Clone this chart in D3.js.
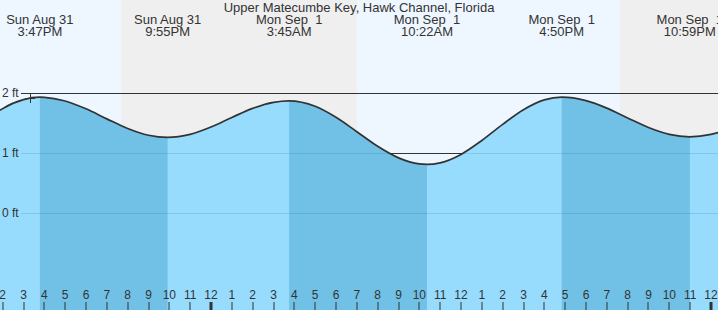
<!DOCTYPE html>
<html><head><meta charset="utf-8">
<script src="https://cdn.jsdelivr.net/npm/d3@7"></script>
<style>html,body{margin:0;padding:0;background:#fff;overflow:hidden;} svg{display:block;font-family:Arial,"Liberation Sans",sans-serif;}</style>
</head><body><svg id="c" width="718" height="310"></svg>
<script>
const title = "Upper Matecumbe Key, Hawk Channel, Florida";
const extremeTimes = ["2025-08-31 15:47","2025-08-31 21:55","2025-09-01 03:45","2025-09-01 10:22","2025-09-01 16:50","2025-09-01 22:59"];
const extremeHeights = [1.93,1.26,1.87,0.81,1.93,1.27];
const extremeTypes = ["H","L","H","L","H","L"];
const extremeDayLabels = ["Sun Aug 31","Sun Aug 31","Mon Sep  1","Mon Sep  1","Mon Sep  1","Mon Sep  1"];
const extremeTimeLabels = ["3:47PM","9:55PM","3:45AM","10:22AM","4:50PM","10:59PM"];
const curveTimes = ["2025-08-31 13:52","2025-08-31 14:00","2025-08-31 15:00","2025-08-31 15:47","2025-08-31 16:00","2025-08-31 17:00","2025-08-31 18:00","2025-08-31 19:00","2025-08-31 20:00","2025-08-31 21:00","2025-08-31 21:55","2025-08-31 23:00","2025-09-01 00:00","2025-09-01 01:00","2025-09-01 02:00","2025-09-01 03:00","2025-09-01 03:45","2025-09-01 05:00","2025-09-01 06:00","2025-09-01 07:00","2025-09-01 08:00","2025-09-01 09:00","2025-09-01 10:00","2025-09-01 10:22","2025-09-01 11:00","2025-09-01 12:00","2025-09-01 13:00","2025-09-01 14:00","2025-09-01 15:00","2025-09-01 16:00","2025-09-01 16:50","2025-09-01 18:00","2025-09-01 19:00","2025-09-01 20:00","2025-09-01 21:00","2025-09-01 22:00","2025-09-01 22:59","2025-09-02 00:00","2025-09-02 00:21"];
const curveHeights = [1.71,1.74,1.89,1.93,1.928,1.867,1.736,1.569,1.409,1.296,1.26,1.31,1.432,1.592,1.744,1.845,1.87,1.779,1.595,1.355,1.111,0.919,0.818,0.81,0.836,0.977,1.209,1.478,1.722,1.885,1.93,1.873,1.748,1.584,1.425,1.31,1.27,1.31,1.34];
const nightStarts = ["2025-08-31 19:41","2025-09-01 19:38"];
const nightEnds = ["2025-09-01 07:00","2025-09-02 07:00"];
const nowTime = "2025-08-31 15:19";
const yTicks = [0,1,2];
const yTickLabels = ["0 ft","1 ft","2 ft"];
const axisStart = "2025-08-31 13:52:18";
const axisEnd = "2025-09-02 00:20:10";

const W = 718, H = 310;
const parse = d3.timeParse("%Y-%m-%d %H:%M");
const parseS = d3.timeParse("%Y-%m-%d %H:%M:%S");
const x = d3.scaleTime().domain([parseS(axisStart), parseS(axisEnd)]).range([0, W]);
const y = d3.scaleLinear().domain([0, 2]).range([213, 93]);
const svg = d3.select("#c");

// backgrounds
svg.append("rect").attr("width", W).attr("height", H).attr("fill", "#eef7ff");
nightStarts.forEach((s, i) => {
  svg.append("rect").attr("x", x(parse(s))).attr("y", 0)
    .attr("width", x(parse(nightEnds[i])) - x(parse(s))).attr("height", H).attr("fill", "#efefef");
});

// dark grid lines (visible above water)
yTicks.forEach(v => {
  svg.append("line").attr("x1", 21).attr("x2", W).attr("y1", y(v)).attr("y2", y(v))
    .attr("stroke", "#333").attr("stroke-width", 1).attr("shape-rendering", "crispEdges");
});

const pts = curveTimes.map((t, i) => ({t: parse(t), h: curveHeights[i]}));
const area = d3.area().x(d => x(d.t)).y0(H).y1(d => y(d.h)).curve(d3.curveMonotoneX);
const line = d3.line().x(d => x(d.t)).y(d => y(d.h)).curve(d3.curveMonotoneX);

svg.append("clipPath").attr("id", "water").append("path").attr("d", area(pts));
svg.append("path").attr("d", area(pts)).attr("fill", "#97dcfd");

// falling tide bands
const wg = svg.append("g").attr("clip-path", "url(#water)");
extremeTimes.forEach((t, i) => {
  if (extremeTypes[i] === "H" && i + 1 < extremeTimes.length) {
    const x0 = x(parse(t)), x1 = x(parse(extremeTimes[i + 1]));
    wg.append("rect").attr("x", x0).attr("y", 0).attr("width", x1 - x0).attr("height", H).attr("fill", "#71c1e6");
  }
});
// light grid lines in water
yTicks.forEach(v => {
  wg.append("line").attr("x1", 21).attr("x2", W).attr("y1", y(v)).attr("y2", y(v))
    .attr("stroke", "rgba(0,70,130,0.14)").attr("stroke-width", 1).attr("shape-rendering", "crispEdges");
});

svg.append("path").attr("d", line(pts)).attr("fill", "none").attr("stroke", "#333").attr("stroke-width", 1.7);

// now marker
const nt = parse(nowTime);
const nx = x(nt);
svg.append("line").attr("x1", Math.round(nx) + 0.5).attr("x2", Math.round(nx) + 0.5).attr("y1", 93).attr("y2", 103).attr("stroke", "#333");
svg.append("line").attr("x1", nx - 5).attr("x2", nx + 5).attr("y1", 98.5).attr("y2", 98.5).attr("stroke", "#333");

// y labels
yTicks.forEach((v, i) => {
  svg.append("text").attr("x", 2).attr("y", y(v) + 4).attr("font-size", 12).attr("fill", "#333").text(yTickLabels[i]);
});

// title
svg.append("text").attr("x", W / 2).attr("y", 12).attr("text-anchor", "middle").attr("font-size", 13).attr("fill", "#333").text(title);

// extreme labels
extremeTimes.forEach((t, i) => {
  const cx = x(parse(t));
  svg.append("text").attr("x", cx).attr("y", 24).attr("text-anchor", "middle").attr("font-size", 13)
    .attr("fill", "#333").style("white-space", "pre").text(extremeDayLabels[i]);
  svg.append("text").attr("x", cx).attr("y", 36).attr("text-anchor", "middle").attr("font-size", 13)
    .attr("fill", "#333").text(extremeTimeLabels[i]);
});

// bottom hour ticks
const hours = d3.timeHour.range(x.domain()[0], x.domain()[1]);
const fmt = d3.timeFormat("%-I");
hours.forEach(h => {
  const hx = x(h);
  const mid = h.getHours() === 0;
  svg.append("rect").attr("x", Math.round(hx) - (mid ? 1.5 : 0.5)).attr("y", 302).attr("width", mid ? 3 : 1).attr("height", 8).attr("fill", "#333");
  svg.append("text").attr("x", hx).attr("y", 299).attr("text-anchor", "middle").attr("font-size", 12).attr("fill", "#333").text(fmt(h));
});
</script></body></html>
